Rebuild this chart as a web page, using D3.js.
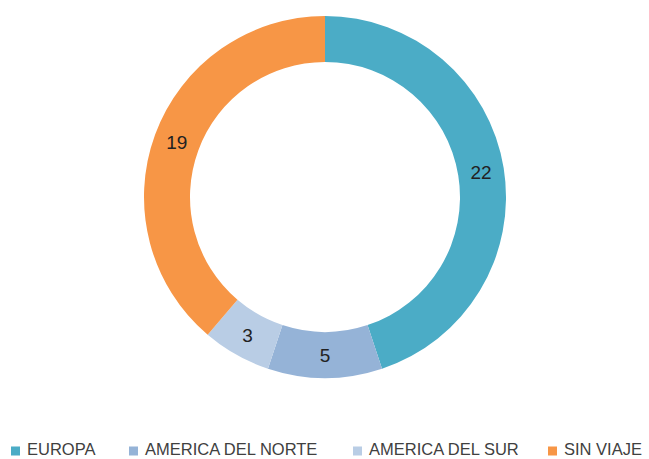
<!DOCTYPE html>
<html>
<head>
<meta charset="utf-8">
<script src="https://cdn.jsdelivr.net/npm/d3@7"></script>
<style>
  html, body { margin: 0; padding: 0; background: #fff; }
  svg { display: block; font-family: "Liberation Sans", Arial, sans-serif; }
</style>
</head>
<body>
<svg id="chart" width="649" height="459"></svg>
<script>
const categories = ["EUROPA", "AMERICA DEL NORTE", "AMERICA DEL SUR", "SIN VIAJE"];
const values = [22, 5, 3, 19];
const colors = ["#4BACC6", "#95B3D7", "#B9CDE5", "#F79646"];
// legend text x positions
const legendX = [27, 145, 369, 564];

const data = categories.map((c, i) => ({ name: c, value: values[i], color: colors[i] }));

const svg = d3.select("#chart");
const cx = 325, cy = 197, outerR = 181, innerR = 135;

const pie = d3.pie().value(d => d.value).sort(null);
const arc = d3.arc().innerRadius(innerR).outerRadius(outerR);
const labelArc = d3.arc().innerRadius((innerR + outerR) / 2).outerRadius((innerR + outerR) / 2);

const g = svg.append("g").attr("transform", `translate(${cx},${cy})`);
const arcs = pie(data);

g.selectAll("path")
  .data(arcs)
  .join("path")
  .attr("d", arc)
  .attr("fill", d => d.data.color);

g.selectAll("text")
  .data(arcs)
  .join("text")
  .attr("transform", d => `translate(${labelArc.centroid(d)})`)
  .attr("text-anchor", "middle")
  .attr("dy", "0.36em")
  .attr("font-size", 19)
  .attr("fill", "#222")
  .text(d => d.data.value);

// legend
const legend = svg.append("g");
const items = legend.selectAll("g")
  .data(data)
  .join("g")
  .attr("transform", (d, i) => `translate(${legendX[i]},0)`);

items.append("rect")
  .attr("x", -16)
  .attr("y", 446.5)
  .attr("width", 9)
  .attr("height", 9)
  .attr("fill", d => d.color);

items.append("text")
  .attr("x", 0)
  .attr("y", 455)
  .attr("font-size", 16.5)
  .attr("fill", "#404040")
  .text(d => d.name);
</script>
</body>
</html>
